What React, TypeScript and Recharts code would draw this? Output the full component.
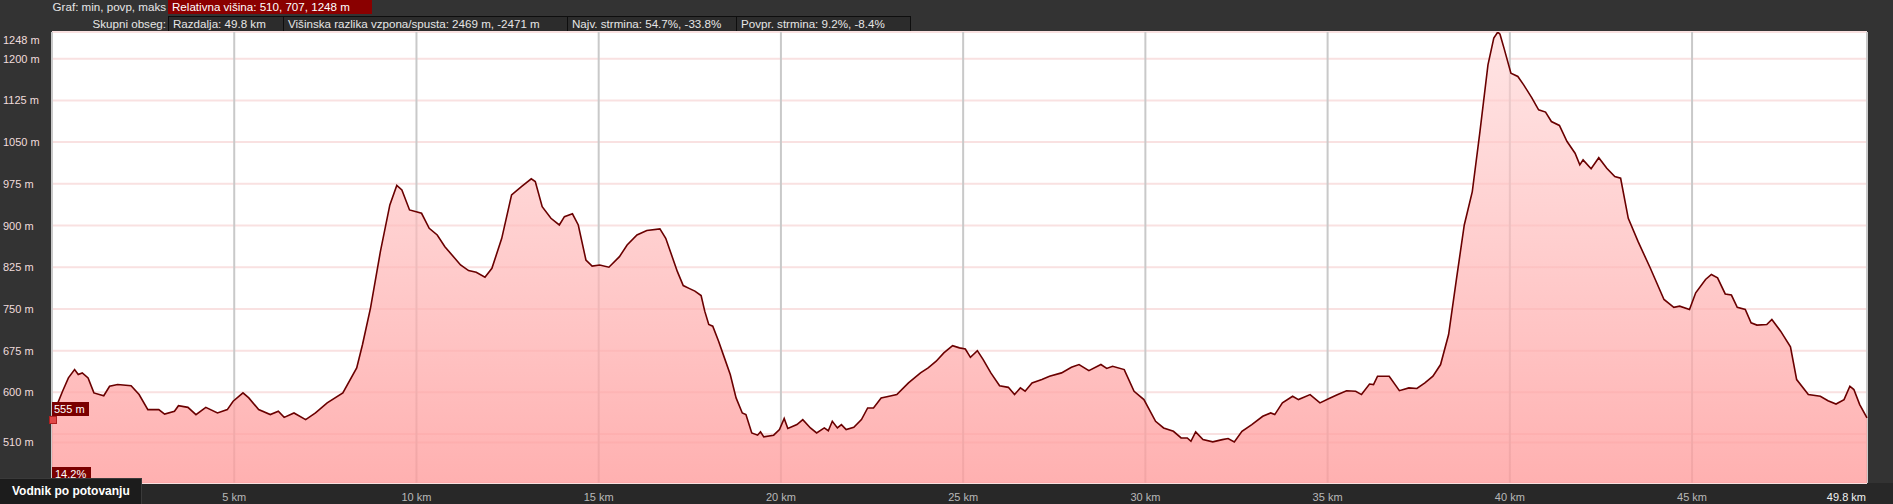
import { AreaChart, Area, XAxis, YAxis, CartesianGrid } from "recharts";

// elevation profile (km, m)
const DIST_KM = [
  0, 0.29, 0.45, 0.62, 0.72, 0.83, 0.99, 1.15, 1.42, 1.58, 1.8, 2.17, 2.39, 2.63, 2.93, 3.09, 3.36, 3.47, 3.73, 3.95,
  4.22, 4.54, 4.81, 4.97, 5.24, 5.4, 5.67, 5.99, 6.21, 6.37, 6.64, 6.96, 7.23, 7.55, 7.98, 8.36, 8.52, 8.74, 9.01, 9.27,
  9.46, 9.6, 9.81, 10.14, 10.35, 10.57, 10.78, 11.21, 11.43, 11.64, 11.88, 12.07, 12.34, 12.61, 12.88, 13.15, 13.26, 13.45, 13.69, 13.92,
  14.06, 14.28, 14.44, 14.65, 14.82, 15.03, 15.28, 15.57, 15.78, 16.05, 16.32, 16.68, 16.84, 17.0, 17.16, 17.32, 17.48, 17.64, 17.81, 17.91,
  18.02, 18.13, 18.29, 18.45, 18.61, 18.77, 18.94, 19.04, 19.2, 19.36, 19.44, 19.53, 19.8, 19.96, 20.09, 20.19, 20.44, 20.6, 20.81, 20.98,
  21.19, 21.3, 21.41, 21.55, 21.66, 21.79, 22.0, 22.21, 22.38, 22.54, 22.75, 22.97, 23.18, 23.5, 23.83, 24.04, 24.26, 24.47, 24.71, 24.9,
  25.06, 25.2, 25.39, 25.55, 25.76, 26.0, 26.24, 26.41, 26.57, 26.7, 26.89, 27.16, 27.37, 27.7, 27.97, 28.18, 28.45, 28.78, 28.94, 29.1,
  29.42, 29.69, 29.96, 30.28, 30.5, 30.77, 30.98, 31.15, 31.25, 31.38, 31.58, 31.85, 32.11, 32.27, 32.44, 32.65, 32.92, 33.22, 33.44, 33.55,
  33.76, 34.04, 34.2, 34.52, 34.79, 35.07, 35.28, 35.52, 35.77, 35.93, 36.15, 36.26, 36.37, 36.69, 36.97, 37.23, 37.45, 37.67, 37.89, 38.1,
  38.32, 38.54, 38.75, 38.97, 39.18, 39.4, 39.56, 39.67, 39.73, 39.84, 40.03, 40.22, 40.38, 40.6, 40.79, 40.98, 41.14, 41.36, 41.57, 41.79,
  41.92, 42.01, 42.23, 42.44, 42.66, 42.88, 43.04, 43.25, 43.52, 43.85, 44.23, 44.5, 44.66, 44.93, 45.1, 45.37, 45.53, 45.7, 45.91, 46.08,
  46.24, 46.46, 46.62, 46.78, 47.05, 47.19, 47.43, 47.7, 47.87, 48.19, 48.52, 48.73, 48.95, 49.17, 49.33, 49.44, 49.6, 49.8,
];
const ELEV_M = [
  555, 602, 626, 641, 632, 635, 626, 599, 594, 611, 614, 612, 596, 569, 569, 561, 566, 576, 573, 560,
  573, 563, 569, 584, 599, 590, 569, 560, 566, 555, 563, 551, 563, 581, 599, 644, 686, 752, 853, 937,
  972, 964, 928, 922, 895, 883, 862, 829, 819, 816, 807, 823, 877, 955, 970, 984, 979, 934, 913, 901,
  916, 921, 901, 838, 827, 829, 825, 844, 865, 883, 891, 894, 877, 847, 817, 792, 787, 782, 774, 746,
  722, 719, 692, 662, 632, 590, 563, 560, 527, 523, 529, 520, 523, 533, 553, 535, 542, 551, 536, 527,
  536, 531, 548, 536, 542, 533, 537, 551, 572, 572, 590, 593, 596, 617, 635, 644, 656, 671, 684, 680,
  678, 663, 675, 659, 635, 612, 609, 596, 608, 602, 617, 623, 629, 635, 645, 650, 639, 650, 643, 647,
  641, 602, 587, 548, 536, 530, 518, 518, 512, 529, 515, 511, 515, 517, 511, 530, 542, 557, 563, 560,
  581, 593, 587, 596, 581, 590, 596, 603, 602, 596, 615, 614, 629, 629, 603, 608, 607, 617, 629, 650,
  704, 806, 901, 961, 1069, 1189, 1237, 1248, 1244, 1219, 1174, 1168, 1153, 1130, 1108, 1104, 1087, 1080, 1051, 1030,
  1009, 1018, 1002, 1022, 1003, 988, 985, 913, 871, 824, 767, 753, 755, 749, 779, 803, 812, 806, 777, 775,
  753, 749, 725, 721, 722, 731, 710, 682, 623, 596, 593, 585, 579, 587, 611, 605, 578, 554,
];

const X_TICKS = [5, 10, 15, 20, 25, 30, 35, 40, 45, 49.8];
const Y_TICKS = [510, 525, 600, 675, 750, 825, 900, 975, 1050, 1125, 1200, 1248];

const SUMMARY = ["Razdalja: 49.8 km", "Višinska razlika vzpona/spusta: 2469 m, -2471 m", "Najv. strmina: 54.7%, -33.8%", "Povpr. strmina: 9.2%, -8.4%"];
const SUMMARY_W = [115, 284, 169, 174];

const data = DIST_KM.map((km, i) => ({ km, elev: ELEV_M[i] }));

const FONT = '"Liberation Sans", Arial, sans-serif';

function XTick({ x, y, payload }: any) {
  const last = payload.value === 49.8;
  return (
    <text
      x={last ? x - 1 : x}
      y={y + 6}
      textAnchor={last ? "end" : "middle"}
      dominantBaseline="central"
      fill={last ? "#f2f2f2" : "#b8b8b8"}
      fontSize={11}
      fontFamily={FONT}
    >
      {`${payload.value} km`}
    </text>
  );
}

function YTick({ y, payload }: any) {
  if (payload.value === 525) return null;
  const yy = payload.value === 1248 ? y + 8 : y;
  return (
    <text x={3} y={yy} dominantBaseline="central" fill="#f0dcdc" fontSize={11} fontFamily={FONT}>
      {`${payload.value} m`}
    </text>
  );
}

const boxText: React.CSSProperties = {
  position: "absolute",
  height: 14,
  lineHeight: "14px",
  fontSize: 11.6,
  color: "#e6e6e6",
  whiteSpace: "nowrap",
  boxSizing: "border-box",
  paddingLeft: 4,
};

export default function App() {
  let left = 168;
  return (
    <div
      style={{
        position: "absolute",
        left: 0,
        top: 0,
        width: 1893,
        height: 504,
        background: "#333333",
        overflow: "hidden",
        fontFamily: FONT,
      }}
    >
      <div style={{ position: "absolute", left: 0, top: 483, width: 1893, height: 21, background: "#282828" }} />

      {/* header rows */}
      <div style={{ ...boxText, left: 0, top: 0, width: 166, textAlign: "right", paddingLeft: 0 }}>Graf: min, povp, maks</div>
      <div style={{ ...boxText, left: 168, top: 0, width: 204, background: "#8a0000", color: "#fff" }}>
        Relativna višina: 510, 707, 1248 m
      </div>
      <div style={{ ...boxText, left: 0, top: 17, width: 166, textAlign: "right", paddingLeft: 0 }}>Skupni obseg:</div>
      {SUMMARY.map((s, i) => {
        const l = left;
        left += SUMMARY_W[i];
        return (
          <div
            key={s}
            style={{
              ...boxText,
              left: l,
              top: 16,
              width: SUMMARY_W[i] + 1,
              height: 16,
              lineHeight: "14px",
              background: "#2c2c2c",
              border: "1px solid #0e0e0e",
            }}
          >
            {s}
          </div>
        );
      })}

      <div style={{ position: "absolute", left: 0, top: 0 }}>
        <AreaChart width={1893} height={504} data={data} margin={{ top: 32, right: 26, bottom: 0, left: 0 }}>
          <defs>
            <linearGradient id="elevFill" x1="0" y1="0" x2="0" y2="1">
              <stop offset="0%" stopColor="#ffd2d2" stopOpacity={0.6} />
              <stop offset="100%" stopColor="#ff9a9a" stopOpacity={0.78} />
            </linearGradient>
          </defs>
          <CartesianGrid vertical={false} stroke="#f9e1e1" strokeWidth={2} fill="#ffffff" />
          <CartesianGrid horizontal={false} stroke="#c9c9c9" strokeWidth={2} />
          <XAxis
            dataKey="km"
            type="number"
            domain={[0, 49.8]}
            ticks={X_TICKS}
            height={21}
            axisLine={false}
            tickLine={false}
            tick={<XTick />}
            interval={0}
          />
          <YAxis
            type="number"
            domain={[437, 1248]}
            ticks={Y_TICKS}
            width={52}
            axisLine={false}
            tickLine={false}
            tick={<YTick />}
            interval={0}
            allowDataOverflow
          />
          <Area
            type="linear"
            dataKey="elev"
            stroke="#6a0000"
            strokeWidth={1.6}
            fill="url(#elevFill)"
            fillOpacity={1}
            isAnimationActive={false}
            dot={false}
            activeDot={false}
          />
        </AreaChart>
      </div>

      {/* position markers */}
      <div style={{ ...boxText, left: 52, top: 402, width: 37, height: 14, background: "#7a0000", color: "#fff", paddingLeft: 2, fontSize: 11 }}>
        555 m
      </div>
      <div style={{ position: "absolute", left: 49, top: 416, width: 6, height: 6, background: "#e04848", border: "1px solid #b02020" }} />
      <div style={{ ...boxText, left: 52, top: 467, width: 39, height: 14, background: "#7a0000", color: "#fff", paddingLeft: 3, fontSize: 11 }}>
        14.2%
      </div>
      <div
        style={{
          position: "absolute",
          left: 0,
          top: 478,
          width: 142,
          height: 26,
          background: "#1c1c1c",
          borderTop: "1px solid #3a3a3a",
          borderRight: "1px solid #3a3a3a",
          boxSizing: "border-box",
          color: "#fff",
          fontWeight: "bold",
          fontSize: 12,
          lineHeight: "24px",
          paddingLeft: 12,
          whiteSpace: "nowrap",
        }}
      >
        Vodnik po potovanju
      </div>
    </div>
  );
}
